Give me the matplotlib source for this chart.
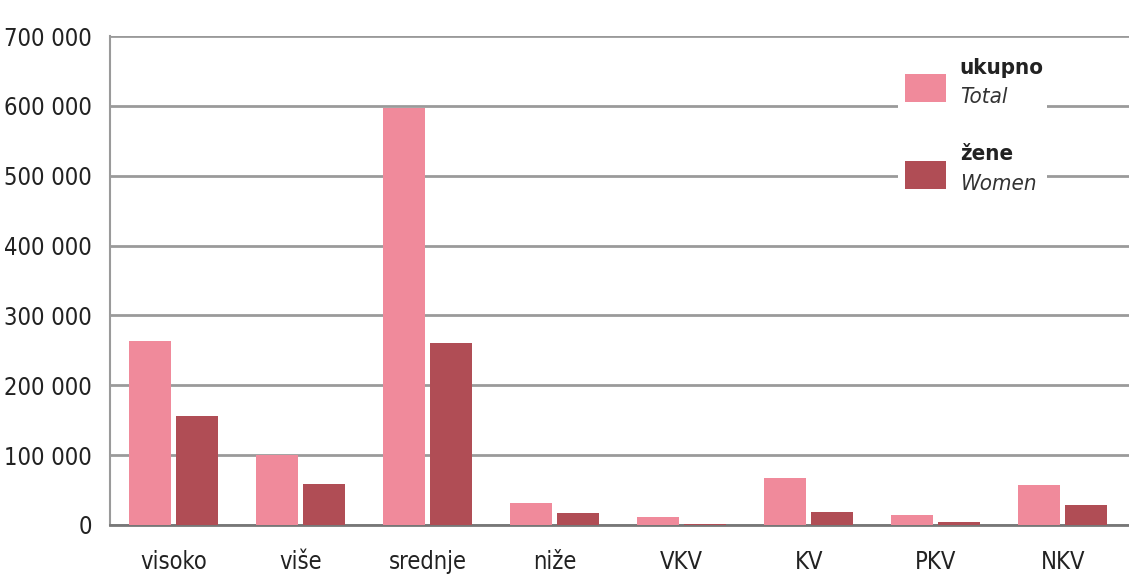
import matplotlib.pyplot as plt
from matplotlib.patches import Rectangle
import numpy as np

categories = ['visoko', 'više', 'srednje', 'niže', 'VKV', 'KV', 'PKV', 'NKV']
total = [263000, 100000, 597000, 31000, 11000, 67000, 14000, 57000]
women = [156000, 59000, 260000, 17000, 2000, 19000, 5000, 29000]
yticks = [0, 100000, 200000, 300000, 400000, 500000, 600000, 700000]

c_total = '#f08a9b'
c_women = '#b04d55'

plt.rcParams['font.family'] = ['DejaVu Sans Condensed', 'DejaVu Sans']
plt.rcParams['font.stretch'] = 'condensed'

fig = plt.figure(figsize=(11.29, 5.78), dpi=100)
ax = fig.add_axes([0.0974, 0.0917, 0.9026, 0.846])

x = np.arange(len(categories))
w = 0.33
ax.bar(x - w / 2 - 0.02, total, width=w, color=c_total, zorder=3)
ax.bar(x + w / 2 + 0.02, women, width=w, color=c_women, zorder=3)

ax.set_xlim(-0.5, 7.52)
ax.set_ylim(0, 700000)
ax.set_yticks(yticks)
ax.set_yticklabels([f'{v:,}'.replace(',', ' ') for v in yticks])
ax.set_xticks(x)
ax.set_xticklabels(categories)
ax.tick_params(axis='both', length=0, labelsize=17, colors='#222222')
ax.tick_params(axis='x', pad=18)
ax.tick_params(axis='y', pad=13)

ax.yaxis.grid(True, color='#9a9a9a', linewidth=2, zorder=0)
for s in ['top', 'right']:
    ax.spines[s].set_visible(False)
ax.spines['left'].set_color('#9a9a9a')
ax.spines['left'].set_linewidth(1.5)
ax.spines['bottom'].set_color('#777777')
ax.spines['bottom'].set_linewidth(2)

# legend drawn by hand
ax.add_patch(Rectangle((0.773, 0.615), 0.147, 0.31, transform=ax.transAxes,
                       facecolor='white', edgecolor='none', zorder=4))
ax.add_patch(Rectangle((0.780, 0.865), 0.04, 0.057, transform=ax.transAxes,
                       facecolor=c_total, edgecolor='none', zorder=5))
ax.add_patch(Rectangle((0.780, 0.687), 0.04, 0.057, transform=ax.transAxes,
                       facecolor=c_women, edgecolor='none', zorder=5))
ax.text(0.834, 0.935, 'ukupno', transform=ax.transAxes, fontsize=16,
        fontweight='bold', color='#222222', va='center', zorder=6)
ax.text(0.834, 0.875, 'Total', transform=ax.transAxes, fontsize=16,
        style='italic', color='#333333', va='center', zorder=6)
ax.text(0.834, 0.758, 'žene', transform=ax.transAxes, fontsize=16,
        fontweight='bold', color='#222222', va='center', zorder=6)
ax.text(0.834, 0.697, 'Women', transform=ax.transAxes, fontsize=16,
        style='italic', color='#333333', va='center', zorder=6)

fig.savefig('out.png', dpi=100)
